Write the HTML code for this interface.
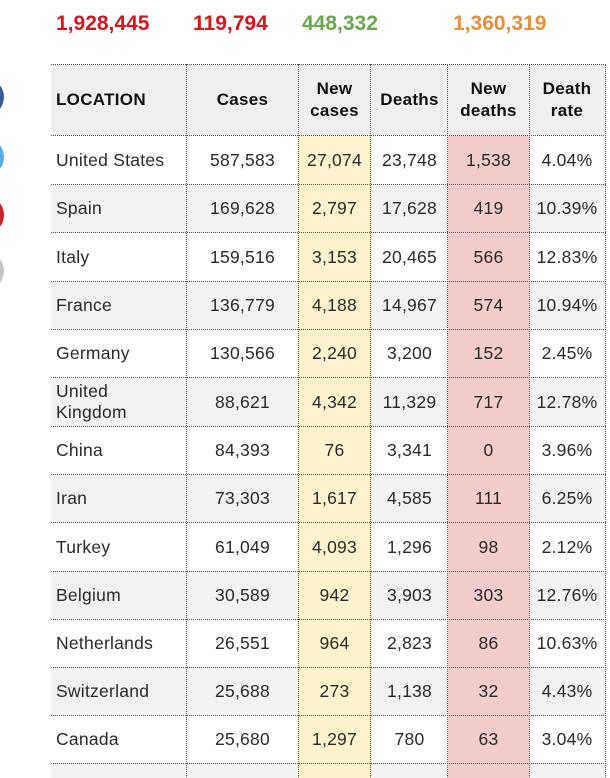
<!DOCTYPE html>
<html>
<head>
<meta charset="utf-8">
<style>
  html,body{margin:0;padding:0;background:#fff;}
  body{width:610px;height:778px;position:relative;overflow:hidden;font-family:"Liberation Sans",Arial,sans-serif;color:#2a2a2a;}
  .top{position:absolute;top:13px;font-size:21px;line-height:21px;font-weight:bold;white-space:nowrap;}
  .circ{position:absolute;left:-34px;width:38px;height:38px;border-radius:50%;}
  .row{position:absolute;left:51px;width:554px;}
  .row.g{background:#f2f2f2;}
  .row.h{background:#efefef;}
  .c{position:absolute;top:0;bottom:0;display:flex;align-items:center;justify-content:center;text-align:center;font-size:17.5px;letter-spacing:0.25px;white-space:nowrap;}
  .c0{left:0;width:136px;justify-content:flex-start;padding-left:5px;box-sizing:border-box;text-align:left;}
  .c1{left:136px;width:111px;}
  .c2{left:247px;width:73px;background:#fff2cc;}
  .c3{left:320px;width:77px;}
  .c4{left:397px;width:81px;background:#f4cccc;}
  .c5{left:478px;width:76px;}
  .h .c{font-weight:bold;color:#111;font-size:17px;line-height:22px;letter-spacing:0.3px;}
  .h .c2,.h .c4{background:transparent;}
  .hl{position:absolute;left:51px;width:555px;height:0;border-top:1px dotted #555;}
  .vl{position:absolute;top:64px;height:714px;width:0;border-left:1px dotted #555;}
  .two{line-height:21px;}
</style>
</head>
<body>
  <div class="top" style="left:56px;color:#d8141c;">1,928,445</div>
  <div class="top" style="left:193px;color:#d8141c;">119,794</div>
  <div class="top" style="left:302px;color:#6aa84f;">448,332</div>
  <div class="top" style="left:453px;color:#e69138;">1,360,319</div>

  <div class="circ" style="top:78px;background:#3b5998;"></div>
  <div class="circ" style="top:138px;background:#55acee;"></div>
  <div class="circ" style="top:196px;background:#cb2027;"></div>
  <div class="circ" style="top:252px;background:#c4c4c4;"></div>

  <div class="row h" style="top:64px;height:72px;">
    <div class="c c0">LOCATION</div>
    <div class="c c1">Cases</div>
    <div class="c c2">New<br>cases</div>
    <div class="c c3">Deaths</div>
    <div class="c c4">New<br>deaths</div>
    <div class="c c5">Death<br>rate</div>
  </div>

  <div class="row" style="top:136px;height:48px;">
    <div class="c c0">United States</div><div class="c c1">587,583</div><div class="c c2">27,074</div><div class="c c3">23,748</div><div class="c c4">1,538</div><div class="c c5">4.04%</div>
  </div>
  <div class="row g" style="top:184px;height:49px;">
    <div class="c c0">Spain</div><div class="c c1">169,628</div><div class="c c2">2,797</div><div class="c c3">17,628</div><div class="c c4">419</div><div class="c c5">10.39%</div>
  </div>
  <div class="row" style="top:233px;height:48px;">
    <div class="c c0">Italy</div><div class="c c1">159,516</div><div class="c c2">3,153</div><div class="c c3">20,465</div><div class="c c4">566</div><div class="c c5">12.83%</div>
  </div>
  <div class="row g" style="top:281px;height:48px;">
    <div class="c c0">France</div><div class="c c1">136,779</div><div class="c c2">4,188</div><div class="c c3">14,967</div><div class="c c4">574</div><div class="c c5">10.94%</div>
  </div>
  <div class="row" style="top:329px;height:49px;">
    <div class="c c0">Germany</div><div class="c c1">130,566</div><div class="c c2">2,240</div><div class="c c3">3,200</div><div class="c c4">152</div><div class="c c5">2.45%</div>
  </div>
  <div class="row g" style="top:378px;height:48px;">
    <div class="c c0 two">United<br>Kingdom</div><div class="c c1">88,621</div><div class="c c2">4,342</div><div class="c c3">11,329</div><div class="c c4">717</div><div class="c c5">12.78%</div>
  </div>
  <div class="row" style="top:426px;height:48px;">
    <div class="c c0">China</div><div class="c c1">84,393</div><div class="c c2">76</div><div class="c c3">3,341</div><div class="c c4">0</div><div class="c c5">3.96%</div>
  </div>
  <div class="row g" style="top:474px;height:49px;">
    <div class="c c0">Iran</div><div class="c c1">73,303</div><div class="c c2">1,617</div><div class="c c3">4,585</div><div class="c c4">111</div><div class="c c5">6.25%</div>
  </div>
  <div class="row" style="top:523px;height:48px;">
    <div class="c c0">Turkey</div><div class="c c1">61,049</div><div class="c c2">4,093</div><div class="c c3">1,296</div><div class="c c4">98</div><div class="c c5">2.12%</div>
  </div>
  <div class="row g" style="top:571px;height:48px;">
    <div class="c c0">Belgium</div><div class="c c1">30,589</div><div class="c c2">942</div><div class="c c3">3,903</div><div class="c c4">303</div><div class="c c5">12.76%</div>
  </div>
  <div class="row" style="top:619px;height:48px;">
    <div class="c c0">Netherlands</div><div class="c c1">26,551</div><div class="c c2">964</div><div class="c c3">2,823</div><div class="c c4">86</div><div class="c c5">10.63%</div>
  </div>
  <div class="row g" style="top:667px;height:49px;">
    <div class="c c0">Switzerland</div><div class="c c1">25,688</div><div class="c c2">273</div><div class="c c3">1,138</div><div class="c c4">32</div><div class="c c5">4.43%</div>
  </div>
  <div class="row" style="top:716px;height:47px;">
    <div class="c c0">Canada</div><div class="c c1">25,680</div><div class="c c2">1,297</div><div class="c c3">780</div><div class="c c4">63</div><div class="c c5">3.04%</div>
  </div>
  <div class="row g" style="top:763px;height:15px;">
    <div class="c c0"></div><div class="c c1"></div><div class="c c2"></div><div class="c c3"></div><div class="c c4"></div><div class="c c5"></div>
  </div>

  <div class="hl" style="top:64px;"></div>
  <div class="hl" style="top:135px;"></div>
  <div class="hl" style="top:184px;"></div>
  <div class="hl" style="top:232px;"></div>
  <div class="hl" style="top:281px;"></div>
  <div class="hl" style="top:329px;"></div>
  <div class="hl" style="top:377px;"></div>
  <div class="hl" style="top:426px;"></div>
  <div class="hl" style="top:474px;"></div>
  <div class="hl" style="top:522px;"></div>
  <div class="hl" style="top:571px;"></div>
  <div class="hl" style="top:619px;"></div>
  <div class="hl" style="top:667px;"></div>
  <div class="hl" style="top:715px;"></div>
  <div class="hl" style="top:763px;"></div>

  <div class="vl" style="left:186px;"></div>
  <div class="vl" style="left:298px;"></div>
  <div class="vl" style="left:370px;"></div>
  <div class="vl" style="left:447px;"></div>
  <div class="vl" style="left:529px;"></div>
  <div class="vl" style="left:605px;"></div>
</body>
</html>
